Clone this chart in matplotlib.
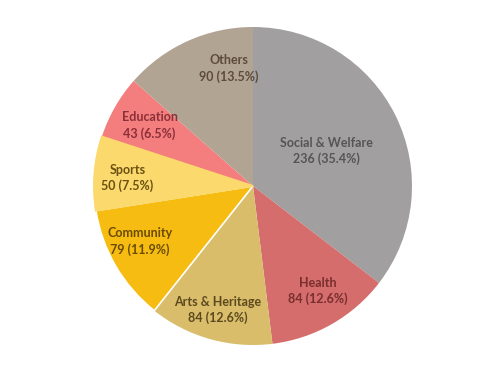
import matplotlib
matplotlib.use("Agg")
import matplotlib.pyplot as plt

categories = ["Social & Welfare", "Health", "Arts & Heritage", "Community", "Sports", "Education", "Others"]
values = [236, 84, 84, 79, 50, 43, 90]
percents = ["35.4%", "12.6%", "12.6%", "11.9%", "7.5%", "6.5%", "13.5%"]

colors = ["#a29fa0", "#d46d6c", "#d9bd6b", "#f6bc12", "#fbd96c", "#f47e7e", "#b2a493"]
text_colors = ["#555555", "#7a2e2e", "#5c4a1e", "#6a4c02", "#6a5012", "#8a3038", "#5c4a3a"]
# label positions (in pie-radius units)
label_pos = [(0.46, 0.22), (0.41, -0.66), (-0.22, -0.78), (-0.71, -0.35), (-0.79, 0.05), (-0.65, 0.38), (-0.15, 0.74)]

W, H, DPI = 494, 367, 100
fig = plt.figure(figsize=(W / DPI, H / DPI), dpi=DPI)
cx, cy, r = 253, 186, 159
ax = fig.add_axes([(cx - r) / W, (H - cy - r) / H, 2 * r / W, 2 * r / H])
wedges, _ = ax.pie(values, colors=colors, startangle=90, counterclock=False,
                   wedgeprops=dict(linewidth=0), radius=1.0)
wedges[3].set_edgecolor("white")
wedges[3].set_linewidth(1.2)
wedges[4].set_edgecolor(colors[4])
wedges[4].set_linewidth(1.4)
wedges[4].set_zorder(3)
for (x, y), cat, v, p, tc in zip(label_pos, categories, values, percents, text_colors):
    ax.text(x, y, f"{cat}\n{v} ({p})", ha="center", va="center", fontsize=9,
            fontweight="bold", color=tc, family=["Lato", "DejaVu Sans"], linespacing=1.35,
            zorder=5)
ax.set_xlim(-1, 1)
ax.set_ylim(-1, 1)
ax.set_aspect("auto")
ax.axis("off")
fig.savefig("out.png", dpi=DPI, facecolor="white")
